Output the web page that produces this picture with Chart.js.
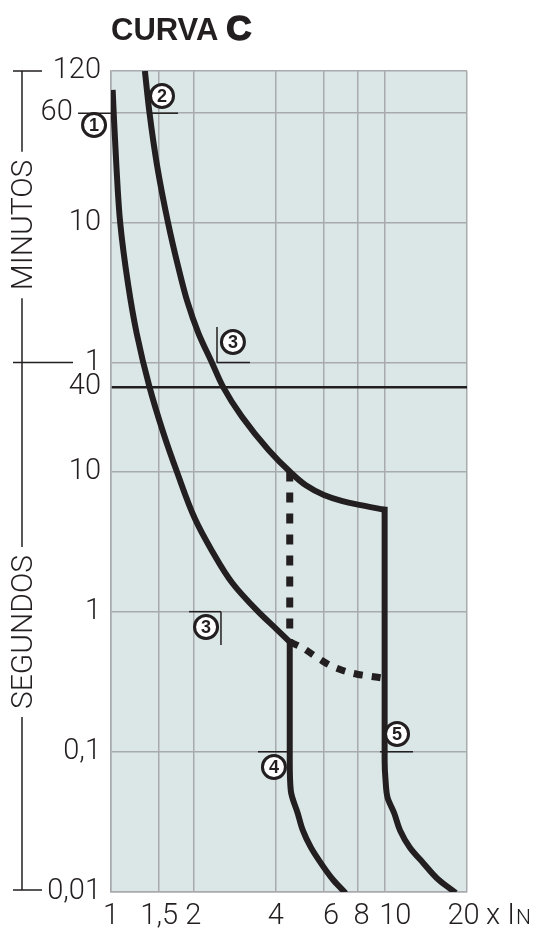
<!DOCTYPE html>
<html>
<head>
<meta charset="utf-8">
<script src="https://cdn.jsdelivr.net/npm/chart.js@4.4.1/dist/chart.umd.min.js"></script>
<style>
  html, body { margin: 0; padding: 0; background: #fff; }
  #wrap { width: 534px; height: 932px; }
</style>
</head>
<body>
<div id="wrap"><canvas id="curvaC" width="534" height="932"></canvas></div>
<script>
// x axis: multiples of In, y axis: tripping time in seconds (log)
const xTicks = [1, 1.5, 2, 4, 6, 8, 10, 20];
const xTickLabels = ['1', '1,5', '2', '4', '6', '8', '10', '20'];
const yTicks = [0.01, 0.1, 1, 10, 40, 60, 600, 3600, 7200];
const yTickLabels = ['0,01', '0,1', '1', '10', '40', '1', '10', '60', '120'];

// curve 1 (lower limit)
const c1TopX = [1.014, 1.023, 1.046, 1.080, 1.155, 1.241, 1.383, 1.555, 1.740, 2.025, 2.34, 2.78, 3.45, 4.05, 4.5];
const c1TopY = [5280, 3600, 1533, 600, 215.7, 96.9, 40, 18.76, 10, 4.617, 2.714, 1.595, 1, 0.742, 0.608];
const c1LowX = [4.5, 4.5, 4.54, 4.817, 5.025, 5.376, 5.85, 6.492, 7.083];
const c1LowY = [0.608, 0.0863, 0.0529, 0.0363, 0.0275, 0.0208, 0.01606, 0.01217, 0.01016];

// curve 2 (upper limit)
const c2TopX = [1.33, 1.383, 1.473, 1.615, 1.765, 1.899, 2.088, 2.337, 2.571, 3.006, 3.765, 4.5, 5.154, 6, 6.96, 8.07, 10];
const c2TopY = [7200, 3600, 1533, 600, 283, 164.3, 96.9, 60, 40, 24.67, 14.26, 10, 7.98, 6.796, 6.17, 5.783, 5.337];
const c2LowX = [10, 10, 10.08, 10.25, 10.85, 11.39, 12.36, 13.86, 15.79, 17.84];
const c2LowY = [5.337, 0.0863, 0.0623, 0.0472, 0.0363, 0.0275, 0.0208, 0.01606, 0.01217, 0.01016];

// dashed parts
const dashVX = [4.5, 4.5];
const dashVY = [10, 0.608];
const dashCX = [4.5, 4.94, 5.705, 6.662, 7.93, 9.42, 10];
const dashCY = [0.608, 0.560, 0.467, 0.3955, 0.358, 0.3406, 0.335];

const ink = '#231f20';
const gridGrey = '#a8aaad';
const plotBg = '#dbe7e7';
const thinFont = 'Roboto';
const nb = '\u00a0';

function curve(xs, ys, extra) {
  return Object.assign({
    data: xs.map((x, i) => ({ x: x, y: ys[i] })),
    showLine: true,
    indexAxis: 'y',
    cubicInterpolationMode: 'monotone',
    borderColor: ink,
    borderWidth: 6,
    pointRadius: 0,
    fill: false,
    borderCapStyle: 'butt',
    borderJoinStyle: 'round'
  }, extra || {});
}

const bgPlugin = {
  id: 'plotBg',
  beforeDraw(chart) {
    const a = chart.chartArea, c = chart.ctx;
    c.save();
    c.fillStyle = plotBg;
    c.fillRect(a.left, a.top, a.right - a.left, a.bottom - a.top);
    c.restore();
  }
};

function marker(c, x, y, n) {
  c.beginPath();
  c.arc(x, y, 11.5, 0, Math.PI * 2);
  c.fillStyle = '#fff';
  c.fill();
  c.lineWidth = 3;
  c.strokeStyle = ink;
  c.stroke();
  c.fillStyle = ink;
  c.font = 'bold 18px "Liberation Sans"';
  c.textAlign = 'center';
  c.textBaseline = 'middle';
  c.fillText(n, x, y + 1);
}

function seg(c, x1, y1, x2, y2) {
  c.beginPath();
  c.moveTo(x1, y1);
  c.lineTo(x2, y2);
  c.stroke();
}

const decoPlugin = {
  id: 'deco',
  afterDraw(chart) {
    const c = chart.ctx, a = chart.chartArea;
    const X = v => chart.scales.x.getPixelForValue(v);
    const Y = v => chart.scales.y.getPixelForValue(v);
    c.save();

    // title
    c.fillStyle = ink;
    c.textAlign = 'left';
    c.textBaseline = 'alphabetic';
    c.font = 'bold 31px "Liberation Sans"';
    c.fillText('CURVA', a.left, 40);
    const w = c.measureText('CURVA').width;
    c.font = 'bold 35px "Liberation Sans"';
    c.lineWidth = 1.5;
    c.strokeStyle = ink;
    c.fillText('C', a.left + w + 8, 40);
    c.strokeText('C', a.left + w + 8, 40);

    // x In after the last tick label
    c.font = '300 29px ' + thinFont;
    c.textBaseline = 'middle';
    const lx = X(20) + 19;
    c.fillText('x I', lx, 917);
    const wx = c.measureText('x I').width;
    c.font = '300 21px ' + thinFont;
    c.fillText('N', lx + wx + 1, 919);

    // left bracket with MINUTOS / SEGUNDOS
    c.strokeStyle = ink;
    c.lineWidth = 1.5;
    const bx = 22;
    const yMin = 225;
    const ySeg = 632;
    c.font = '300 30px ' + thinFont;
    const wMin = c.measureText('MINUTOS').width;
    const wSeg = c.measureText('SEGUNDOS').width;
    seg(c, 13, a.top, 42, a.top);
    seg(c, bx, a.top, bx, yMin - wMin / 2 - 8);
    seg(c, bx, yMin + wMin / 2 + 8, bx, ySeg - wSeg / 2 - 8);
    seg(c, bx, ySeg + wSeg / 2 + 8, bx, a.bottom - 2);
    seg(c, 13, Y(60), 73, Y(60));
    seg(c, 13, a.bottom - 2, 42, a.bottom - 2);
    c.textAlign = 'center';
    c.textBaseline = 'middle';
    c.save();
    c.translate(bx + 2, yMin);
    c.rotate(-Math.PI / 2);
    c.fillText('MINUTOS', 0, 0);
    c.restore();
    c.save();
    c.translate(bx + 2, ySeg);
    c.rotate(-Math.PI / 2);
    c.fillText('SEGUNDOS', 0, 0);
    c.restore();

    // reference marks
    seg(c, X(0.758), Y(3600), X(1), Y(3600));
    seg(c, X(1.365), Y(3600), X(1.758), Y(3600));
    seg(c, X(2.44), Y(107.5), X(2.44), Y(60));
    seg(c, X(2.44), Y(60), X(3.22), Y(60));
    seg(c, X(1.928), Y(1), X(2.523), Y(1));
    seg(c, X(2.523), Y(1), X(2.523), Y(0.579));
    seg(c, X(3.445), Y(0.1), X(4.5), Y(0.1));
    seg(c, X(9.62), Y(0.1), X(12.7), Y(0.1));
    marker(c, X(0.867), Y(2966), '1');
    marker(c, X(1.536), Y(4775), '2');
    marker(c, X(2.79), Y(84), '3');
    marker(c, X(2.225), Y(0.778), '3');
    marker(c, X(3.94), Y(0.078), '4');
    marker(c, X(11.1), Y(0.134), '5');
    c.restore();
  }
};

// tick labels in the original sit a little right of the 6 and 10 lines
const xLabelShift = { 6: nb + nb, 8: nb, 10: nb + nb + nb };

new Chart(document.getElementById('curvaC'), {
  type: 'scatter',
  data: {
    datasets: [
      curve(c1TopX, c1TopY),
      curve(c1LowX, c1LowY, { borderCapStyle: 'square' }),
      curve(c2TopX, c2TopY),
      curve(c2LowX, c2LowY, { borderCapStyle: 'square' }),
      curve(dashVX, dashVY, { borderWidth: 7, borderDash: [10, 11] }),
      curve(dashCX, dashCY, { borderWidth: 7, borderDash: [9, 9] })
    ]
  },
  options: {
    responsive: false,
    animation: false,
    devicePixelRatio: 1,
    layout: { padding: { top: 71, right: 67, left: 0, bottom: 0 } },
    plugins: { legend: { display: false }, tooltip: { enabled: false } },
    scales: {
      x: {
        type: 'logarithmic',
        min: 1,
        max: 20,
        afterBuildTicks: s => { s.ticks = xTicks.map(v => ({ value: v })); },
        afterFit: s => { s.height = 40; },
        ticks: {
          callback: (v, i) => (xLabelShift[xTicks[i]] || '') + xTickLabels[i] + (xTicks[i] === 20 ? nb : ''),
          autoSkip: false,
          maxRotation: 0,
          padding: 7,
          color: ink,
          font: { family: thinFont, weight: '300', size: 29 }
        },
        grid: { color: gridGrey, lineWidth: 1.5, drawTicks: false },
        border: { color: gridGrey, width: 1.5 }
      },
      y: {
        type: 'logarithmic',
        min: 0.01,
        max: 7200,
        afterBuildTicks: s => { s.ticks = yTicks.map(v => ({ value: v })); },
        afterFit: s => { s.width = 111; },
        ticks: {
          callback: (v, i) => yTickLabels[i] + (yTicks[i] === 3600 ? nb + nb + nb + nb : ''),
          autoSkip: false,
          padding: 10,
          color: ink,
          font: { family: thinFont, weight: '300', size: 29 }
        },
        grid: {
          color: ctx => (ctx.tick && ctx.tick.value === 40 ? ink : gridGrey),
          lineWidth: ctx => (ctx.tick && ctx.tick.value === 40 ? 2.5 : 1.5),
          drawTicks: false
        },
        border: { color: gridGrey, width: 1.5 }
      }
    }
  },
  plugins: [bgPlugin, decoPlugin]
});
</script>
</body>
</html>
